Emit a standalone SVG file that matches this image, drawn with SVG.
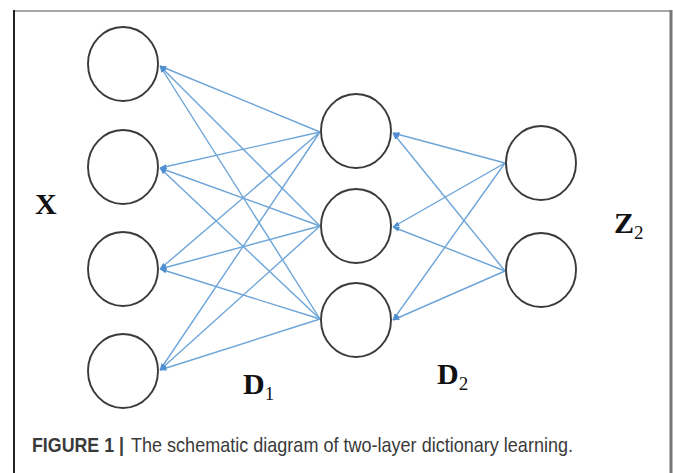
<svg xmlns="http://www.w3.org/2000/svg" width="673" height="473" viewBox="0 0 673 473">
  <style>
    .node { fill: #ffffff; stroke: #3a3a3a; stroke-width: 1.9; }
    .edge { stroke: #6da5d8; stroke-width: 1.4; fill: none; }
    .lbl { font-family: "Liberation Serif", "Times New Roman", serif; font-weight: bold; font-size: 30px; fill: #111111; }
    .sub { font-family: "Liberation Serif", "Times New Roman", serif; font-size: 19px; fill: #111111; }
    .cap { font-family: "Liberation Sans Narrow", "Liberation Sans", Arial, sans-serif; font-size: 21px; fill: #3a3a3a; }
  </style>
  <defs>
    <marker id="arrow" viewBox="0 0 7 5" refX="6.5" refY="2.5" markerWidth="7" markerHeight="5" markerUnits="userSpaceOnUse" orient="auto">
      <path d="M0,0 L7,2.5 L0,5 z" fill="#4f8fcf"/>
    </marker>
  </defs>

  <rect x="0" y="0" width="673" height="473" fill="#ffffff"/>

  <!-- frame -->
  <g id="frame">
    <line x1="14" y1="11" x2="671" y2="11" stroke="#8a8a8a" stroke-width="1.5"/>
    <line x1="14" y1="10" x2="14" y2="473" stroke="#222222" stroke-width="2"/>
    <line x1="671" y1="10" x2="671" y2="473" stroke="#777777" stroke-width="3"/>
  </g>

  <!-- connectors: middle layer to input layer, output layer to middle layer -->
  <g id="connectors">
    <line class="edge" x1="320" y1="132" x2="160" y2="66" marker-end="url(#arrow)"/>
    <line class="edge" x1="320" y1="226" x2="160" y2="66" marker-end="url(#arrow)"/>
    <line class="edge" x1="320" y1="319" x2="160" y2="66" marker-end="url(#arrow)"/>
    <line class="edge" x1="320" y1="132" x2="160" y2="168" marker-end="url(#arrow)"/>
    <line class="edge" x1="320" y1="226" x2="160" y2="168" marker-end="url(#arrow)"/>
    <line class="edge" x1="320" y1="319" x2="160" y2="168" marker-end="url(#arrow)"/>
    <line class="edge" x1="320" y1="132" x2="160" y2="269" marker-end="url(#arrow)"/>
    <line class="edge" x1="320" y1="226" x2="160" y2="269" marker-end="url(#arrow)"/>
    <line class="edge" x1="320" y1="319" x2="160" y2="269" marker-end="url(#arrow)"/>
    <line class="edge" x1="320" y1="132" x2="160" y2="370" marker-end="url(#arrow)"/>
    <line class="edge" x1="320" y1="226" x2="160" y2="370" marker-end="url(#arrow)"/>
    <line class="edge" x1="320" y1="319" x2="160" y2="370" marker-end="url(#arrow)"/>

    <line class="edge" x1="505" y1="163" x2="393" y2="133" marker-end="url(#arrow)"/>
    <line class="edge" x1="505" y1="271" x2="393" y2="133" marker-end="url(#arrow)"/>
    <line class="edge" x1="505" y1="163" x2="393" y2="227" marker-end="url(#arrow)"/>
    <line class="edge" x1="505" y1="271" x2="393" y2="227" marker-end="url(#arrow)"/>
    <line class="edge" x1="505" y1="163" x2="393" y2="320" marker-end="url(#arrow)"/>
    <line class="edge" x1="505" y1="271" x2="393" y2="320" marker-end="url(#arrow)"/>
  </g>

  <!-- input layer -->
  <g id="x1"><ellipse class="node" cx="123" cy="64" rx="35" ry="37"/></g>
  <g id="x2"><ellipse class="node" cx="123" cy="167" rx="35" ry="37"/></g>
  <g id="x3"><ellipse class="node" cx="123" cy="269" rx="35" ry="37"/></g>
  <g id="x4"><ellipse class="node" cx="123" cy="371" rx="35" ry="37"/></g>

  <!-- hidden layer -->
  <g id="h1"><ellipse class="node" cx="356" cy="131" rx="35" ry="37"/></g>
  <g id="h2"><ellipse class="node" cx="356" cy="226" rx="35" ry="37"/></g>
  <g id="h3"><ellipse class="node" cx="356" cy="320" rx="35" ry="37"/></g>

  <!-- output layer -->
  <g id="z1"><ellipse class="node" cx="541" cy="163" rx="35" ry="37"/></g>
  <g id="z2"><ellipse class="node" cx="541" cy="270" rx="35" ry="37"/></g>

  <!-- labels -->
  <g id="labels">
    <text class="lbl" x="35" y="214">X</text>
    <text x="614" y="233"><tspan class="lbl">Z</tspan><tspan class="sub" dy="6">2</tspan></text>
    <text x="243" y="394"><tspan class="lbl">D</tspan><tspan class="sub" dy="6">1</tspan></text>
    <text x="437" y="384"><tspan class="lbl">D</tspan><tspan class="sub" dy="6">2</tspan></text>
  </g>

  <!-- caption -->
  <g id="caption">
    <text class="cap" x="32" y="452" font-weight="bold" textLength="92" lengthAdjust="spacingAndGlyphs">FIGURE 1 |</text>
    <text class="cap" x="131" y="452" textLength="442" lengthAdjust="spacingAndGlyphs">The schematic diagram of two-layer dictionary learning.</text>
  </g>
</svg>
